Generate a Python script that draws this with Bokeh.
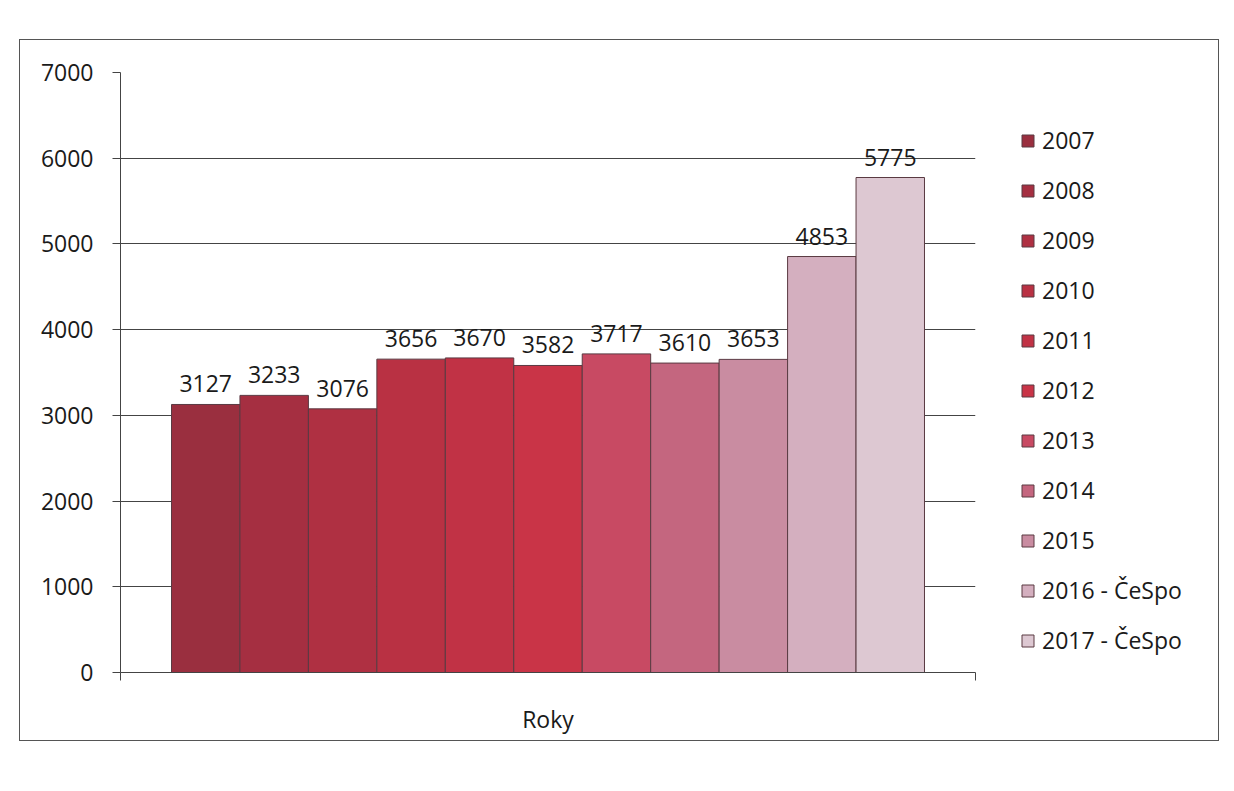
from bokeh.plotting import figure
from bokeh.models import ColumnDataSource, FixedTicker, Range1d, LabelSet
from bokeh.core.properties import value
from bokeh.embed import file_html
from bokeh.resources import INLINE

years = ["2007", "2008", "2009", "2010", "2011", "2012", "2013", "2014", "2015",
         "2016 - ČeSpo", "2017 - ČeSpo"]
counts = [3127, 3233, 3076, 3656, 3670, 3582, 3717, 3610, 3653, 4853, 5775]
colors = ["#9A2F3F", "#A52F41", "#AF3042", "#B93143", "#C13245", "#C93447",
          "#C84A63", "#C4667F", "#C98CA1", "#D4AFBF", "#DDC8D2"]
category = "Roky"
y_ticks = [0, 1000, 2000, 3000, 4000, 5000, 6000, 7000]

xs = list(range(len(years)))
src = ColumnDataSource(dict(x=xs, y=counts, year=years, color=colors,
                            lbl=[str(c) for c in counts]))

x_start = -0.5 - 51 / 68.45
x_end = len(years) - 0.5 + 51 / 68.45
FONT = "Open Sans"

p = figure(frame_width=855, frame_height=600, output_backend="svg",
           toolbar_location=None,
           x_range=Range1d(x_start, x_end), y_range=Range1d(0, 7000),
           min_border_left=100, min_border_right=0, min_border_top=32,
           min_border_bottom=68)
p.styles = {"margin-left": "19px", "margin-top": "39px",
            "border": "1px solid #555", "width": "1200px",
            "overflow": "hidden", "box-sizing": "border-box"}
p.outline_line_color = None
p.background_fill_color = "white"

r = p.vbar(x="x", top="y", width=1.0, bottom=0, source=src, fill_color="color",
           line_color="#5a3a42", line_width=1, legend_field="year")

labels = LabelSet(x="x", y="y", text="lbl", source=src, text_align="center",
                  text_baseline="bottom", y_offset=12,
                  text_font=value(FONT), text_font_size="23px",
                  text_color="#1a1a1a")
p.add_layout(labels)

# y axis
p.yaxis.ticker = FixedTicker(ticks=y_ticks)
p.yaxis.major_tick_out = 8
p.yaxis.major_tick_in = 0
p.yaxis.minor_tick_line_color = None
p.yaxis.axis_line_color = "#444"
p.yaxis.major_tick_line_color = "#444"
p.yaxis.major_label_text_font = FONT
p.yaxis.major_label_text_font_size = "23px"
p.yaxis.major_label_text_color = "#1a1a1a"
p.yaxis.major_label_standoff = 19

# x axis
mid = (len(years) - 1) / 2
p.xaxis.ticker = FixedTicker(ticks=[mid], minor_ticks=[x_start, x_end])
p.xaxis.major_label_overrides = {mid: category}
p.xaxis.major_tick_out = 0
p.xaxis.major_tick_in = 0
p.xaxis.minor_tick_out = 8
p.xaxis.minor_tick_in = 0
p.xaxis.minor_tick_line_color = "#444"
p.xaxis.axis_line_color = "#444"
p.xaxis.major_label_text_font = FONT
p.xaxis.major_label_text_font_size = "23px"
p.xaxis.major_label_text_color = "#1a1a1a"
p.xaxis.major_label_standoff = 22

p.xgrid.grid_line_color = None
p.ygrid.ticker = FixedTicker(ticks=y_ticks)
p.ygrid.grid_line_color = "#444"
p.ygrid.grid_line_width = 1

legend = p.legend[0]
p.center.remove(legend)
legend.location = (45, 16)
legend.border_line_color = None
legend.background_fill_alpha = 0
legend.label_text_font = FONT
legend.label_text_font_size = "23px"
legend.label_text_color = "#1a1a1a"
legend.glyph_width = 15
legend.glyph_height = 15
legend.label_height = 31
legend.spacing = 18
legend.label_standoff = 7
legend.margin = 0
legend.padding = 0
p.add_layout(legend, "right")

open("out.html", "w").write(file_html(p, INLINE))
